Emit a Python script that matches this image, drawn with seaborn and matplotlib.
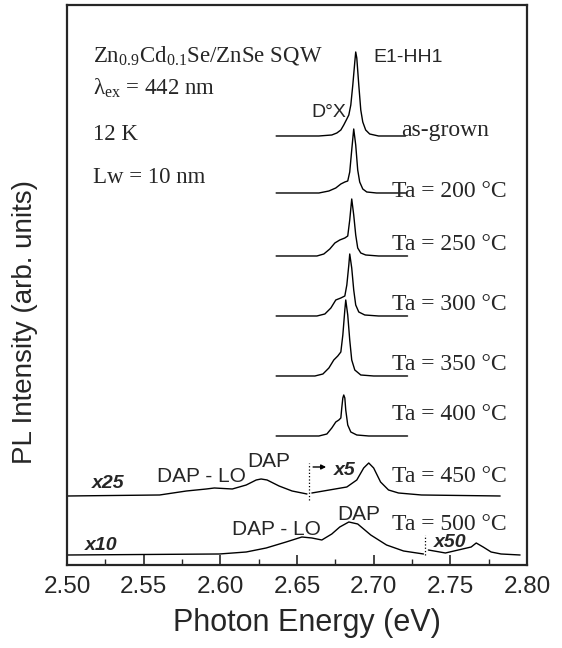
import pandas as pd
import seaborn as sns
import matplotlib.pyplot as plt
from matplotlib.ticker import MultipleLocator

# --- style ------------------------------------------------------------------
sns.set_style("ticks")
plt.rcParams["font.family"] = ["Liberation Sans", "DejaVu Sans"]
plt.rcParams["mathtext.fontset"] = "custom"
plt.rcParams["mathtext.rm"] = "Liberation Serif"
plt.rcParams["mathtext.it"] = "Liberation Serif:italic"
plt.rcParams["mathtext.bf"] = "Liberation Serif:bold"

SERIF = ["Liberation Serif", "DejaVu Serif"]

# --- data (heights above each baseline) -------------------------------------
# as-grown
e_asgrown = [2.6364, 2.6643, 2.6727, 2.6760, 2.6786, 2.6805, 2.6825, 2.6838, 2.6851, 2.6864,
             2.6877, 2.6883, 2.6890, 2.6903, 2.6916, 2.6929, 2.6948, 2.6974, 2.7032, 2.7208]
i_asgrown = [0, 0, 1, 3, 6, 11, 17, 21, 31, 51, 74, 84, 78, 51, 26, 14, 6, 2, 0, 0]

# Ta = 200 C
e_200 = [2.6364, 2.6643, 2.6708, 2.6753, 2.6786, 2.6812, 2.6831, 2.6844, 2.6857, 2.6870,
         2.6883, 2.6896, 2.6909, 2.6929, 2.6955, 2.7019, 2.7208]
i_200 = [0, 0, 2, 5, 9, 11, 12, 21, 43, 64, 48, 23, 11, 4, 1, 0, 0]

# Ta = 250 C
e_250 = [2.6364, 2.6630, 2.6675, 2.6714, 2.6747, 2.6779, 2.6812, 2.6831, 2.6844, 2.6857,
         2.6870, 2.6883, 2.6896, 2.6916, 2.6948, 2.7032, 2.7221]
i_250 = [0, 0, 2, 7, 13, 16, 18, 20, 36, 57, 41, 21, 8, 3, 1, 0, 0]

# Ta = 300 C
e_300 = [2.6364, 2.6630, 2.6682, 2.6721, 2.6753, 2.6786, 2.6812, 2.6825, 2.6838, 2.6844,
         2.6857, 2.6870, 2.6883, 2.6903, 2.6942, 2.7032, 2.7221]
i_300 = [0, 0, 2, 8, 16, 18, 20, 31, 51, 62, 48, 26, 11, 4, 1, 0, 0]

# Ta = 350 C
e_350 = [2.6364, 2.6617, 2.6669, 2.6708, 2.6740, 2.6766, 2.6786, 2.6799, 2.6812, 2.6818,
         2.6831, 2.6844, 2.6857, 2.6877, 2.6916, 2.7000, 2.7221]
i_350 = [0, 0, 2, 8, 16, 20, 24, 41, 66, 76, 61, 36, 16, 6, 1, 0, 0]

# Ta = 400 C
e_400 = [2.6364, 2.6643, 2.6695, 2.6727, 2.6753, 2.6773, 2.6786, 2.6792, 2.6799, 2.6805,
         2.6812, 2.6818, 2.6831, 2.6851, 2.6890, 2.6968, 2.7221]
i_400 = [0, 0, 2, 8, 14, 16, 18, 28, 38, 41, 38, 26, 11, 4, 1, 0, 0]

# Ta = 450 C, x25 part and x5 part
e_450a = [2.5006, 2.5604, 2.5779, 2.5909, 2.5961, 2.6078, 2.6169, 2.6234, 2.6266, 2.6305,
          2.6383, 2.6468, 2.6565]
i_450a = [0, 1, 5, 7, 8, 7, 11, 16, 17, 16, 10, 5, 2]
e_450b = [2.6597, 2.6825, 2.6890, 2.6935, 2.6968, 2.7000, 2.7045, 2.7097, 2.7162, 2.7312, 2.7825]
i_450b = [3, 9, 16, 28, 33, 28, 14, 6, 3, 1, 0]

# Ta = 500 C, x10 part and x50 part
e_500a = [2.5006, 2.5994, 2.6169, 2.6299, 2.6429, 2.6532, 2.6597, 2.6662, 2.6727, 2.6779,
          2.6838, 2.6896, 2.6981, 2.7084, 2.7195, 2.7325]
i_500a = [0, 1, 3, 7, 13, 18, 17, 15, 21, 28, 33, 31, 20, 10, 4, 1]
e_500b = [2.7357, 2.7468, 2.7552, 2.7636, 2.7669, 2.7714, 2.7766, 2.7831, 2.7955]
i_500b = [5, 2, 5, 8, 12, 8, 3, 1, 0]

# vertical offsets of the stacked spectra
offsets = {"as-grown": 429, "200": 372, "250": 309, "300": 249,
           "350": 189, "400": 129, "450": 69, "500": 10}

segments = [
    ("as-grown", "as-grown", e_asgrown, i_asgrown),
    ("200", "200", e_200, i_200),
    ("250", "250", e_250, i_250),
    ("300", "300", e_300, i_300),
    ("350", "350", e_350, i_350),
    ("400", "400", e_400, i_400),
    ("450a", "450", e_450a, i_450a),
    ("450b", "450", e_450b, i_450b),
    ("500a", "500", e_500a, i_500a),
    ("500b", "500", e_500b, i_500b),
]

rows = []
for seg, key, es, ins in segments:
    for k, (e, v) in enumerate(zip(es, ins)):
        rows.append({"segment": seg, "order": k, "energy": e, "intensity": offsets[key] + v})
df = pd.DataFrame(rows)

ta_labels = ["Ta = 200 °C", "Ta = 250 °C", "Ta = 300 °C", "Ta = 350 °C",
             "Ta = 400 °C", "Ta = 450 °C", "Ta = 500 °C"]
ta_label_y = [368, 315, 255, 195, 145, 83, 35]

# --- figure -----------------------------------------------------------------
fig = plt.figure(figsize=(5.62, 6.48), dpi=100)
ax = fig.add_axes([0.1192, 0.1281, 0.8185, 0.8642])

sns.lineplot(data=df, x="energy", y="intensity", units="segment", estimator=None,
             sort=False, color="black", linewidth=1.0, ax=ax)

# dotted breaks where the magnification changes
ax.plot([2.6578, 2.6578], [65, 102], color="black", linestyle=":", linewidth=0.9)
ax.plot([2.7338, 2.7338], [10, 30], color="black", linestyle=":", linewidth=0.9)

ax.set_xlim(2.50, 2.80)
ax.set_ylim(0, 560)
ax.set_yticks([])
ax.xaxis.set_major_locator(MultipleLocator(0.05))
ax.xaxis.set_minor_locator(MultipleLocator(0.025))
ax.xaxis.set_major_formatter(plt.FormatStrFormatter("%.2f"))
ax.tick_params(axis="x", which="major", direction="in", length=7, width=1.2,
               labelsize=17.5, pad=8)
ax.tick_params(axis="x", which="minor", direction="in", length=4, width=1.0)
for sp in ax.spines.values():
    sp.set_linewidth(1.6)
    sp.set_visible(True)

ax.set_xlabel("Photon Energy (eV)", fontsize=22)
ax.xaxis.set_label_coords(0.522, -0.076)
ax.set_ylabel("PL Intensity (arb. units)", fontsize=20)
ax.yaxis.set_label_coords(-0.063, 0.434)

# --- annotations --------------------------------------------------------------
ax.text(2.5169, 503, r"Zn$_{\mathrm{0.9}}$Cd$_{\mathrm{0.1}}$Se/ZnSe SQW",
        family=SERIF, fontsize=16.5, va="baseline")
ax.text(2.5169, 470, r"λ$_{\mathrm{ex}}$ = 442 nm", family=SERIF, fontsize=16.5, va="baseline")
ax.text(2.5169, 425, "12 K", family=SERIF, fontsize=16.5, va="baseline")
ax.text(2.5169, 382, "Lw = 10 nm", family=SERIF, fontsize=16.5, va="baseline")

ax.text(2.7000, 503, "E1-HH1", fontsize=14, va="baseline")
ax.text(2.6591, 448, "D°X", fontsize=14, va="baseline")
ax.text(2.7182, 429, "as-grown", family=SERIF, fontsize=17, va="baseline")
for lab, yy in zip(ta_labels, ta_label_y):
    ax.text(2.7117, yy, lab, family=SERIF, fontsize=17, va="baseline")

ax.text(2.5162, 77, "x25", fontsize=14, weight="bold", style="italic", va="baseline")
ax.text(2.5584, 83, "DAP - LO", fontsize=15, va="baseline")
ax.text(2.6175, 98, "DAP", fontsize=15, va="baseline")
ax.text(2.6740, 90, "x5", fontsize=14, weight="bold", style="italic", va="baseline")
ax.annotate("", xy=(2.6690, 98), xytext=(2.6605, 98),
            arrowprops=dict(arrowstyle="-|>", color="black", lw=1.0,
                            mutation_scale=7, shrinkA=0, shrinkB=0))

ax.text(2.6078, 30, "DAP - LO", fontsize=15, va="baseline")
ax.text(2.6760, 45, "DAP", fontsize=15, va="baseline")
ax.text(2.5117, 15, "x10", fontsize=14, weight="bold", style="italic", va="baseline")
ax.text(2.7390, 18, "x50", fontsize=14, weight="bold", style="italic", va="baseline")

fig.savefig("out.png", dpi=100)
